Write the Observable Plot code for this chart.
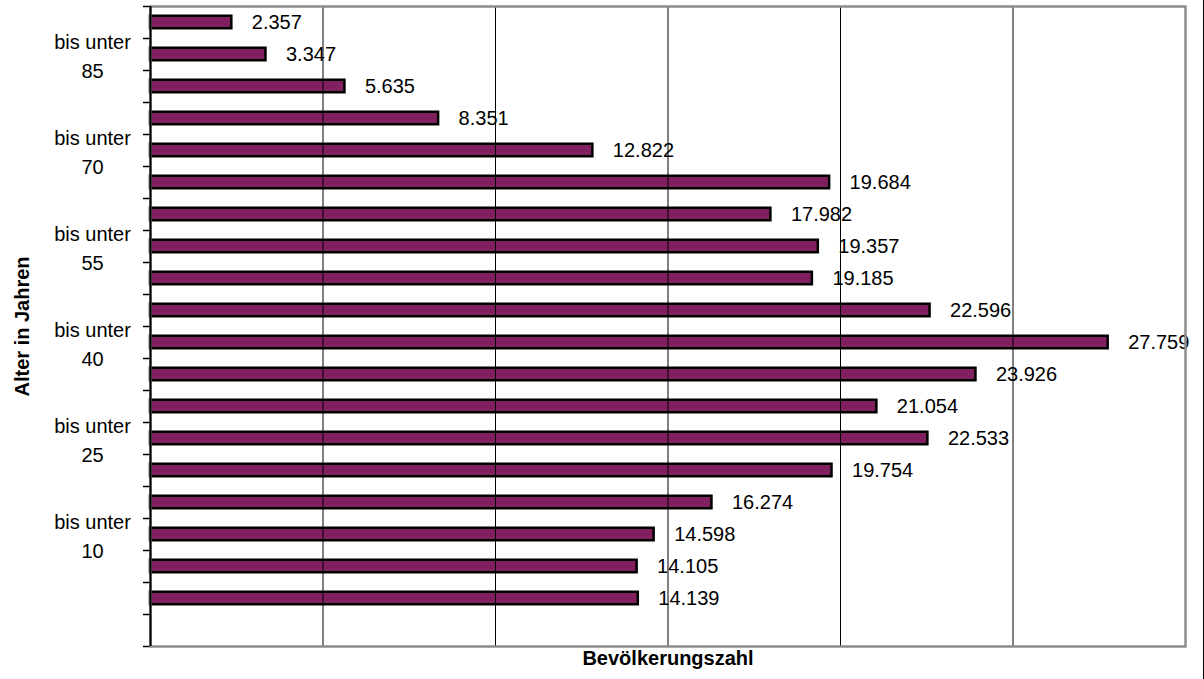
<!DOCTYPE html>
<html>
<head>
<meta charset="utf-8">
<script src="https://cdn.jsdelivr.net/npm/d3@7"></script>
<script src="https://cdn.jsdelivr.net/npm/@observablehq/plot@0.6"></script>
<style>
  html, body { margin: 0; padding: 0; background: #fff; }
  #chart { position: relative; width: 1204px; height: 679px; }
  #chart svg { display: block; }
  #edge { position: absolute; top: 0; right: 0; width: 1px; height: 679px; background: #000; }
</style>
</head>
<body>
<div id="chart"><div id="edge"></div></div>
<script>
// Altersgruppen von oben (älteste) nach unten (jüngste); die unterste Zeile bleibt leer
const ageGroups = [
  "85 und älter", "80 bis unter 85", "75 bis unter 80", "70 bis unter 75",
  "65 bis unter 70", "60 bis unter 65", "55 bis unter 60", "50 bis unter 55",
  "45 bis unter 50", "40 bis unter 45", "35 bis unter 40", "30 bis unter 35",
  "25 bis unter 30", "20 bis unter 25", "15 bis unter 20", "10 bis unter 15",
  "6 bis unter 10", "3 bis unter 6", "unter 3", "ohne Angabe"
];

// Bevölkerungszahl je Altersgruppe (gleiche Reihenfolge)
const population = [
  2357, 3347, 5635, 8351, 12822, 19684, 17982, 19357, 19185, 22596,
  27759, 23926, 21054, 22533, 19754, 16274, 14598, 14105, 14139, null
];

// Beschriftete Kategorien der Altersachse
const labelledGroups = [
  "80 bis unter 85", "65 bis unter 70", "50 bis unter 55",
  "35 bis unter 40", "20 bis unter 25", "6 bis unter 10"
];
const groupLabels = [
  "bis unter\n85", "bis unter\n70", "bis unter\n55",
  "bis unter\n40", "bis unter\n25", "bis unter\n10"
];

// Gitterlinien der Werteachse
const gridValues = [5000, 10000, 15000, 20000, 25000];

const rows = ageGroups
  .map((group, i) => ({group, value: population[i]}))
  .filter(d => d.value != null);
const labels = labelledGroups.map((group, i) => ({group, text: groupLabels[i]}));

const de = d3.formatLocale({decimal: ",", thousands: ".", grouping: [3], currency: ["", " €"]});
const fmt = de.format(",d");

const width = 1204, height = 679;
const marginTop = 6, marginBottom = 33, marginLeft = 150, marginRight = 19;
const halfStep = (height - marginTop - marginBottom) / ageGroups.length / 2;

const chart = Plot.plot({
  width, height, marginTop, marginBottom, marginLeft, marginRight,
  style: {fontFamily: "Arial, 'Liberation Sans', sans-serif", background: "#fff", color: "#000"},
  x: {domain: [0, 30000], axis: null},
  y: {domain: ageGroups, padding: 0, axis: null},
  marks: [
    // Teilstriche an den Kategoriegrenzen
    Plot.axisY({ticks: ageGroups, tickSize: 7, tickFormat: null, label: null, dy: -halfStep, stroke: "#000", strokeWidth: 1.5}),
    Plot.axisY({ticks: [ageGroups[ageGroups.length - 1]], tickSize: 7, tickFormat: null, label: null, dy: halfStep, stroke: "#000", strokeWidth: 1.5}),
    Plot.text(labels, {
      y: "group", text: "text", frameAnchor: "left", dx: -58,
      textAnchor: "middle", lineHeight: 1.42, fontSize: 20
    }),
    Plot.barX(rows, {
      x: "value", y: "group", fill: "#80205f", stroke: "#000", strokeWidth: 2.5,
      insetTop: 9.75, insetBottom: 9.75
    }),
    Plot.text(rows, {
      x: "value", y: "group", text: d => fmt(d.value), dx: 20,
      textAnchor: "start", fontSize: 20
    }),
    Plot.ruleX(gridValues, {stroke: "#000", strokeWidth: 1}),
    Plot.frame({stroke: "#8c8c8c", strokeWidth: 2.5}),
    Plot.ruleX([0], {stroke: "#000", strokeWidth: 2}),
    Plot.text(["Bevölkerungszahl"], {
      text: d => d, frameAnchor: "bottom", dy: 18, fontSize: 20, fontWeight: "bold"
    }),
    Plot.text(["Alter in Jahren"], {
      text: d => d, frameAnchor: "left", dx: -128, rotate: -90, textAnchor: "middle",
      fontSize: 20, fontWeight: "bold"
    })
  ]
});

document.getElementById("chart").prepend(chart);
</script>
</body>
</html>
